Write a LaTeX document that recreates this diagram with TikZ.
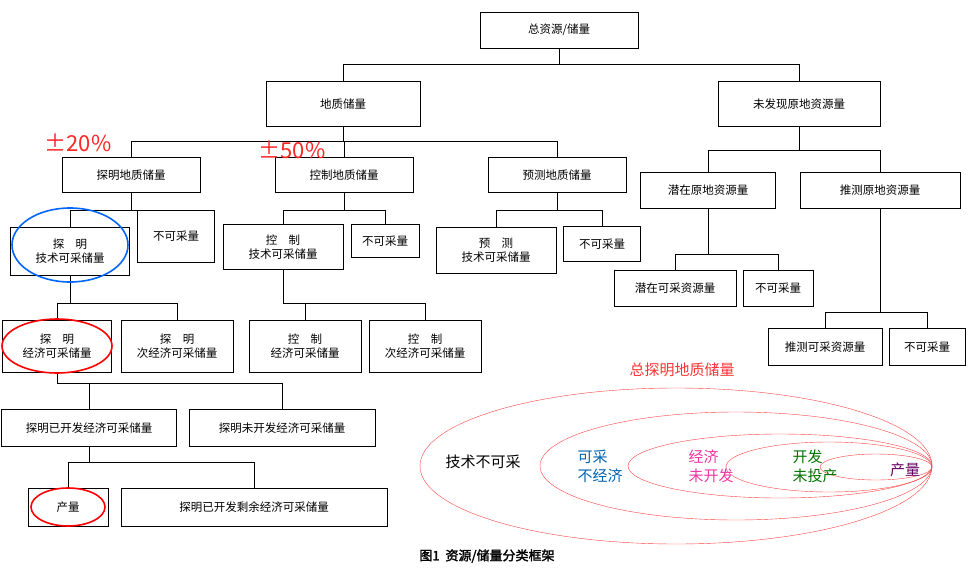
\documentclass[tikz,border=0pt]{standalone}
\usepackage{fontspec}
\setmainfont{Noto Sans CJK SC}
\newfontfamily\cjkbold[FakeBold=2]{Noto Sans CJK SC}
\usetikzlibrary{positioning}

\begin{document}
\begin{tikzpicture}[
        x=1pt, y=-1pt,
        font=\fontsize{11.5}{14}\selectfont,
        % Styles
        box/.style={% For the classification boxes
            rectangle,
            draw,
            thick,
            align=center,
            inner sep=1pt,
            },
        link/.style={% Tree connectors
            semithick,
            },
        highlight/.style={% hand-drawn highlights
            line width=1.6pt,
            },
        ring/.style={% nested classes
            draw=red!75,
            thin,
            },
        ]
    \useasboundingbox (0,0) rectangle (973,578);

    % Nodes
        \node [box, minimum width=158, minimum height=36] (total) at (559,30) {总资源/储量};
        \node [box, minimum width=154, minimum height=45] (geo) at (343,104) {地质储量};
        \node [box, minimum width=162, minimum height=45] (undisc) at (799,104) {未发现原地资源量};

        \node [box, minimum width=138, minimum height=35] (proved) at (131,175) {探明地质储量};
        \node [box, minimum width=138, minimum height=35] (probable) at (344,175) {控制地质储量};
        \node [box, minimum width=138, minimum height=35] (possible) at (557,175) {预测地质储量};
        \node [box, minimum width=135, minimum height=36] (potential) at (708,190) {潜在原地资源量};
        \node [box, minimum width=160, minimum height=36] (inferred) at (880,190) {推测原地资源量};

        \node [box, minimum width=119, minimum height=48] (provedtech) at (70,251) {探\quad 明\\技术可采储量};
        \node [box, minimum width=77, minimum height=52] (provedno) at (176,236) {不可采量};
        \node [box, minimum width=120, minimum height=45] (probtech) at (283,247) {控\quad 制\\技术可采储量};
        \node [box, minimum width=68, minimum height=33] (probno) at (385,241) {不可采量};
        \node [box, minimum width=120, minimum height=46] (posstech) at (496,250) {预\quad 测\\技术可采储量};
        \node [box, minimum width=77, minimum height=35] (possno) at (602,244) {不可采量};
        \node [box, minimum width=122, minimum height=36] (potrec) at (675,288) {潜在可采资源量};
        \node [box, minimum width=70, minimum height=36] (potno) at (778,288) {不可采量};
        \node [box, minimum width=114, minimum height=37] (infrec) at (825,347) {推测可采资源量};
        \node [box, minimum width=76, minimum height=37] (infno) at (927,347) {不可采量};

        \node [box, minimum width=109, minimum height=52] (provedeco) at (57,346) {探\quad 明\\经济可采储量};
        \node [box, minimum width=112, minimum height=52] (provedsub) at (177,346) {探\quad 明\\次经济可采储量};
        \node [box, minimum width=112, minimum height=52] (probeco) at (305,346) {控\quad 制\\经济可采储量};
        \node [box, minimum width=112, minimum height=52] (probsub) at (425,346) {控\quad 制\\次经济可采储量};

        \node [box, minimum width=175, minimum height=37] (developed) at (89,428) {探明已开发经济可采储量};
        \node [box, minimum width=186, minimum height=37] (undeveloped) at (282,428) {探明未开发经济可采储量};
        \node [box, minimum width=80, minimum height=38] (output) at (68,507) {产量};
        \node [box, minimum width=266, minimum height=38] (remaining) at (254,507) {探明已开发剩余经济可采储量};

    % Tree connectors: parent / bar height / children
        \foreach \parent/\bar/\kids in {total/64/{geo,undisc}, geo/141/{proved,probable,possible},
                undisc/150/{potential,inferred}, proved/210/{provedtech,provedno},
                probable/210/{probtech,probno}, possible/210/{posstech,possno},
                potential/254/{potrec,potno}, inferred/312/{infrec,infno},
                provedtech/303/{provedeco,provedsub}, probtech/303/{probeco,probsub},
                provedeco/383/{developed,undeveloped}, developed/462/{output,remaining}}{
            \draw [link] (\parent.south) -- (\parent.south |- 0,\bar);
            \foreach \kid in \kids {
                \draw [link] (\parent.south |- 0,\bar) -| (\kid.north);
            }
        }

    % Highlights
        \node [text=red!85, font=\fontsize{22}{24}\selectfont] (plus20) at (78,143) {±20\%};
        \node [text=red!85, font=\fontsize{22}{24}\selectfont] (plus50) at (292,150) {±50\%};
        \draw [highlight, draw=blue!60!cyan] (provedtech.center) ++(0,-6) ellipse [x radius=58, y radius=37];
        \draw [highlight, red] (provedeco.center) ellipse [x radius=55, y radius=27];
        \draw [highlight, red] (output.center) ellipse [x radius=37, y radius=19];

    % Nested classes
        \draw [ring] (676,466) ellipse [x radius=256, y radius=78];
        \draw [ring] (736,466) ellipse [x radius=196, y radius=54];
        \draw [ring] (780,466) ellipse [x radius=152, y radius=32];
        \draw [ring] (829,467) ellipse [x radius=103, y radius=25];
        \draw [ring] (876,467) ellipse [x radius=56, y radius=13];
        \node [text=red!80, font=\fontsize{15}{17}\selectfont] (totalproved) at (682,370) {总探明地质储量};
        \node [font=\fontsize{15}{17}\selectfont] (technot) at (483,462) {技术不可采};
        \node [text=blue!45!cyan!70!black, align=left, font=\fontsize{15}{19}\selectfont] (recnot) at (600,466) {可采\\不经济};
        \node [text=magenta!80, align=left, font=\fontsize{15}{19}\selectfont] (econot) at (711,466) {经济\\未开发};
        \node [text=green!45!black, align=left, font=\fontsize{15}{19}\selectfont] (devnot) at (815,466) {开发\\未投产};
        \node [text=violet!80!black, font=\fontsize{15}{17}\selectfont] (prod) at (905,470) {产量};

        \node [font=\cjkbold\fontsize{13}{15}\selectfont] (caption) at (487,556) {图1\ \ 资源/储量分类框架};
\end{tikzpicture}
\end{document}
